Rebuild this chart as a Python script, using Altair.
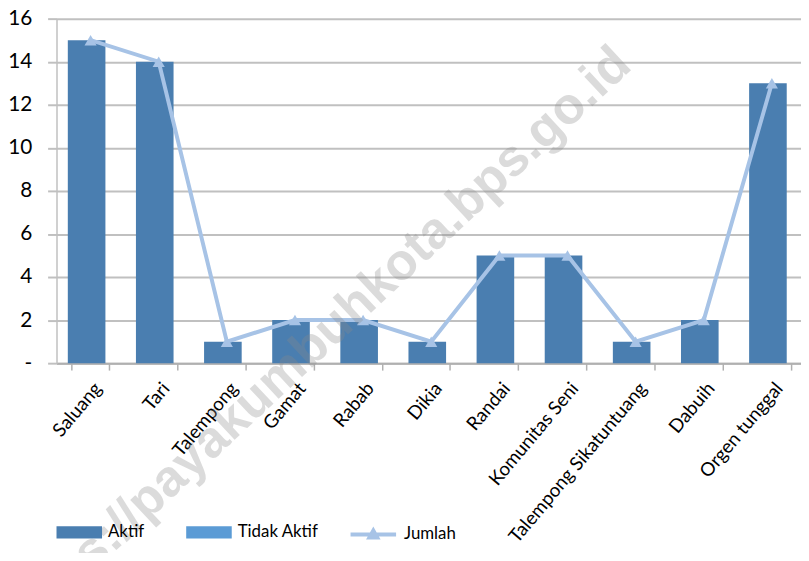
import altair as alt
import pandas as pd

categories = ["Saluang", "Tari", "Talempong", "Gamat", "Rabab", "Dikia", "Randai",
              "Komunitas Seni", "Talempong Sikatuntuang", "Dabuih", "Orgen tunggal"]
aktif = [15, 14, 1, 2, 2, 1, 5, 5, 1, 2, 13]
tidak_aktif = [0, 0, 0, 0, 0, 0, 0, 0, 0, 0, 0]
jumlah = [15, 14, 1, 2, 2, 1, 5, 5, 1, 2, 13]
bar_series = ["Aktif", "Tidak Aktif"]
line_series = ["Jumlah"]
y_ticks = [0, 2, 4, 6, 8, 10, 12, 14, 16]
watermark = ["https://payakumbuhkota.bps.go.id"]

bar_colors = ["#4a7eb0", "#5b9bd5"]
line_color = "#a7c3e6"
FONT = "Lato"

bars_df = pd.DataFrame({
    "Kategori": categories * 2,
    "Seri": [bar_series[0]] * len(categories) + [bar_series[1]] * len(categories),
    "Nilai": aktif + tidak_aktif,
})
line_df = pd.DataFrame({"Kategori": categories, "Seri": line_series[0], "Nilai": jumlah})
wm_df = pd.DataFrame({"t": watermark})

x_enc = alt.X(
    "Kategori:N", sort=categories,
    scale=alt.Scale(paddingInner=0.448, paddingOuter=0.224),
    axis=alt.Axis(title=None, labelAngle=310, labelAlign="right", labelBaseline="top",
                  labelFontSize=19, labelFont=FONT, labelColor="#000", labelPadding=9,
                  labelOffset=0, labelLimit=0,
                  tickBand="extent", tickSize=7, tickColor="#b0b0b0", domainColor="#b0b0b0",
                  domainWidth=2, tickWidth=1.5, grid=False),
)
y_enc = alt.Y(
    "Nilai:Q", stack="zero",
    scale=alt.Scale(domain=[0, 16], nice=False),
    axis=alt.Axis(title=None, values=y_ticks,
                  labelExpr="datum.value == 0 ? '-' : datum.value",
                  labelFontSize=21, labelFont=FONT, labelColor="#000", labelPadding=16,
                  tickSize=9, tickColor="#c0c0c0", tickWidth=2, domainColor="#c0c0c0",
                  domainWidth=1.5, grid=True, gridColor="#c0c0c0", gridWidth=2),
)

bars = alt.Chart(bars_df).mark_bar(xOffset=-4).encode(
    x=x_enc, y=y_enc,
    color=alt.Color("Seri:N", scale=alt.Scale(domain=bar_series, range=bar_colors),
                    legend=alt.Legend(title=None, orient="none", direction="horizontal",
                                      legendX=0, legendY=496,
                                      symbolType="M-1,-0.27H1V0.27H-1Z", symbolSize=2116,
                                      symbolStrokeWidth=0, columnPadding=42, labelOffset=6,
                                      labelFontSize=17, labelFont=FONT, labelColor="#000")),
    order=alt.Order("Seri:N"),
)

line = alt.Chart(line_df).mark_line(strokeWidth=4).encode(
    x=x_enc, y=alt.Y("Nilai:Q"),
    stroke=alt.Stroke("Seri:N", scale=alt.Scale(domain=line_series, range=[line_color]),
                      legend=alt.Legend(title=None, orient="none", direction="horizontal",
                                        legendX=295, legendY=496,
                                        symbolType="M-1,0H1M-0.17,0.13L0,-0.17L0.17,0.13Z",
                                        symbolSize=2116, symbolStrokeWidth=4,
                                        symbolFillColor=line_color, labelOffset=6,
                                        labelFontSize=17, labelFont=FONT, labelColor="#000")),
)

points = alt.Chart(line_df).mark_point(shape="triangle-up", filled=True, size=150,
                                       color=line_color, opacity=1).encode(
    x=x_enc, y=alt.Y("Nilai:Q"),
)

wm = alt.Chart(wm_df).mark_text(angle=317, fontSize=52, fontWeight="bold", font="Liberation Sans",
                                color="#8a8a8a", opacity=0.3, align="right", baseline="middle").encode(
    x=alt.value(572), y=alt.value(38), text="t:N",
)

chart = alt.layer(bars, line, points, wm).resolve_scale(color="independent").properties(
    width=757, height=348,
    padding={"left": 49, "top": 8, "right": -5, "bottom": 189},
    autosize=alt.AutoSizeParams(type="none"),
).configure_view(stroke=None)

chart.save("out.html", embed_options={"renderer": "svg", "actions": False})
